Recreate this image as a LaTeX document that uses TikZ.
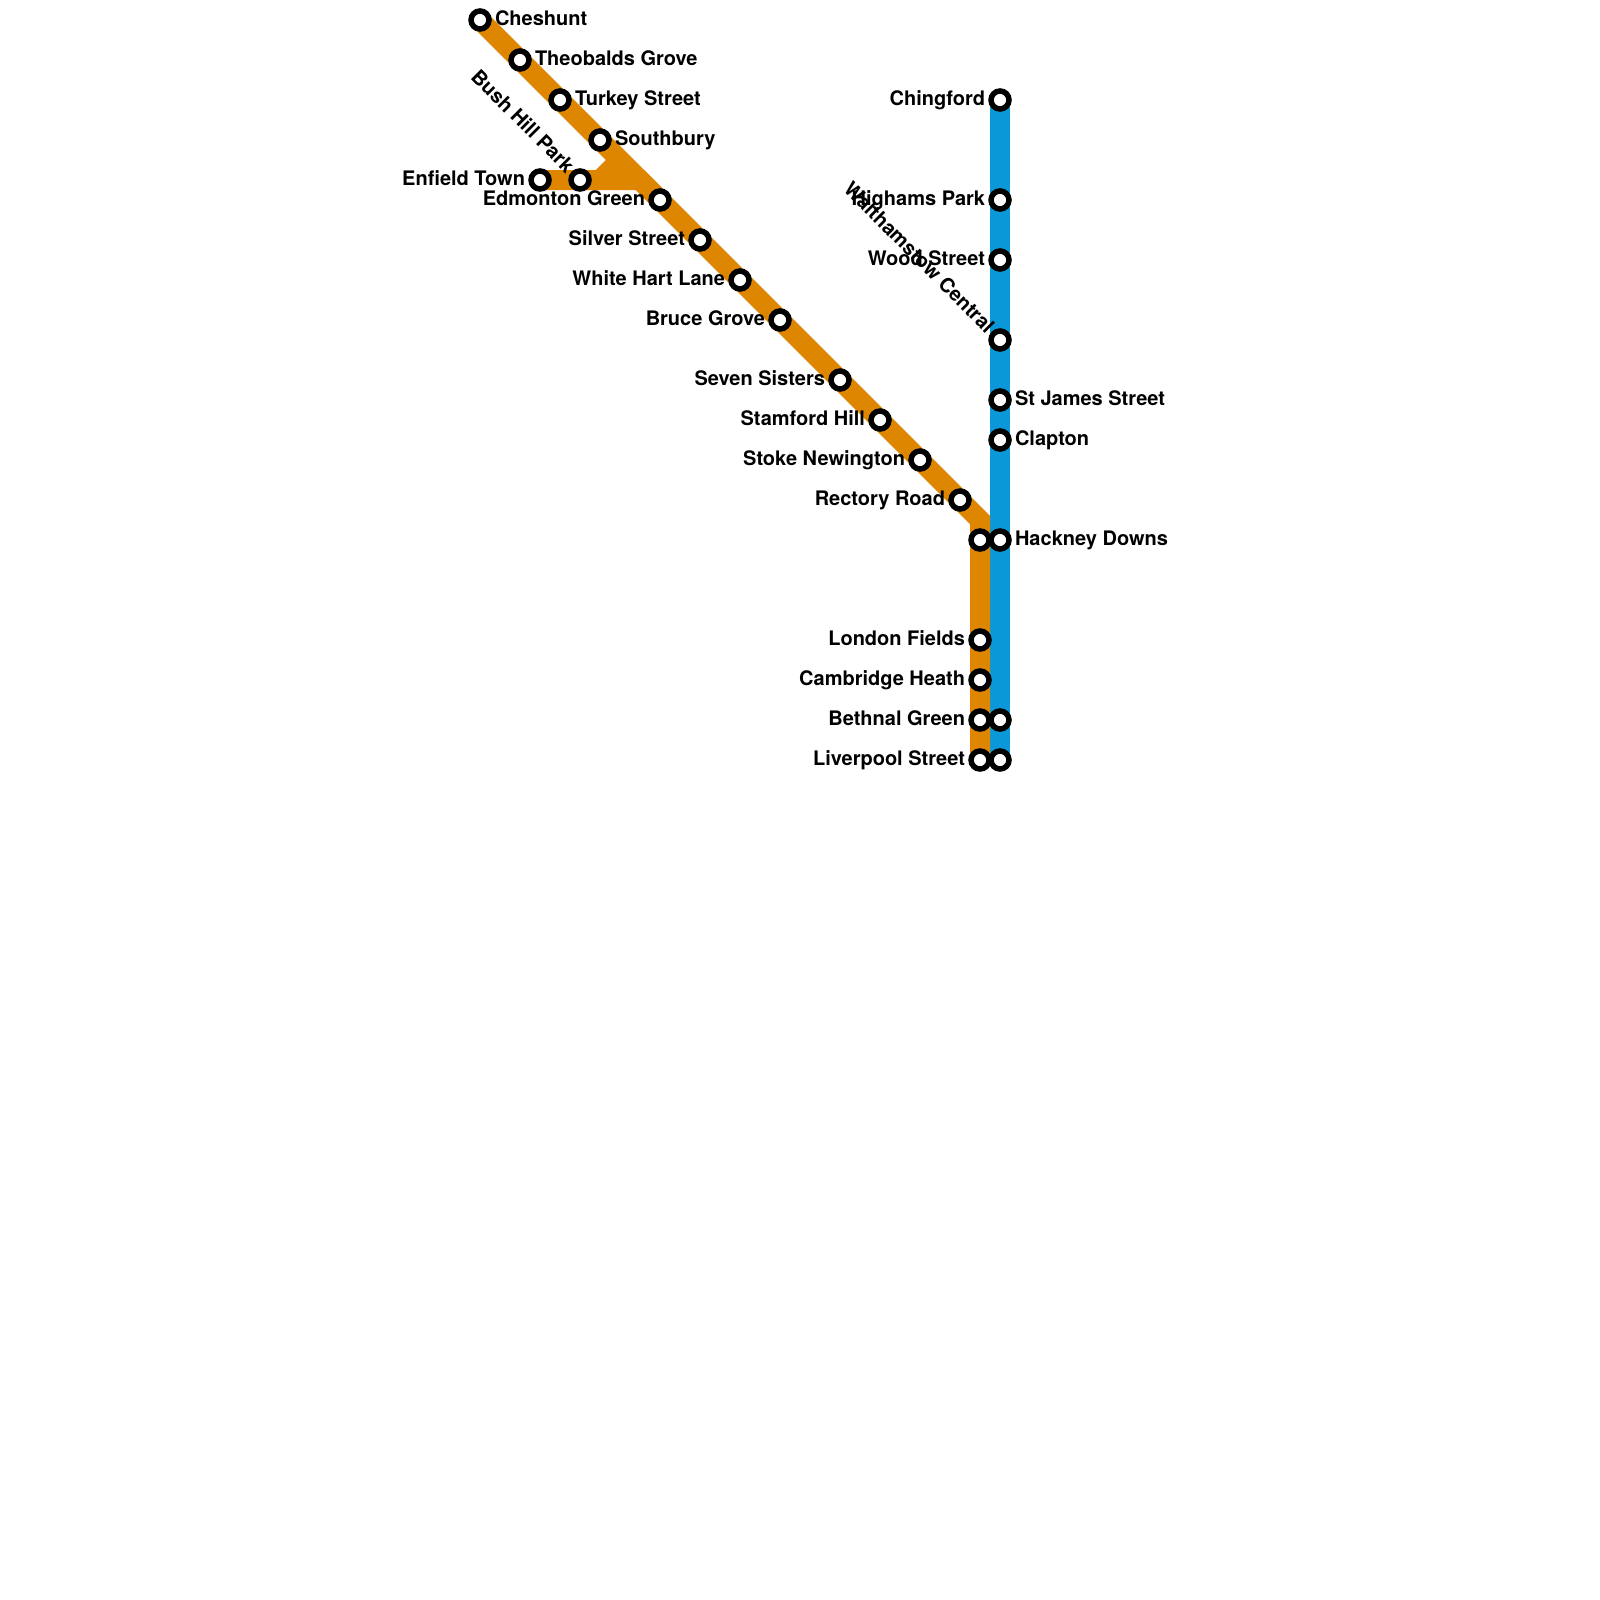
\documentclass[tikz,border=0pt]{standalone}
\usepackage{fontspec}
\setmainfont{TeX Gyre Heros}
\usetikzlibrary{backgrounds}
\definecolor{orangeline}{HTML}{DF8600}
\definecolor{blueline}{HTML}{0A98D8}
\tikzset{
  stn/.style={circle,draw=black,fill=white,line width=5.5pt,minimum size=18pt,inner sep=0pt,outer sep=0pt},
  lbl/.style={font=\fontsize{20}{24}\selectfont\bfseries,text=black,inner sep=0pt,outer sep=0pt},
  lr/.style={lbl,anchor=base west},
  ll/.style={lbl,anchor=base east},
  ld/.style={lbl,anchor=east,rotate=-45},
  oline/.style={draw=orangeline,line width=20pt,line join=miter,line cap=butt},
  bline/.style={draw=blueline,line width=20pt,line join=miter,line cap=butt}
}
\begin{document}
\begin{tikzpicture}[x=1pt,y=-1pt]
\useasboundingbox (0,0) rectangle (1600,1600);
% orange stations
\node[stn] (ches) at (480,20) {};
\node[stn] (theo) at (520,60) {};
\node[stn] (turk) at (560,100) {};
\node[stn] (sout) at (600,140) {};
\node[stn] (enft) at (540,180) {};
\node[stn] (bush) at (580,180) {};
\node[stn] (edmo) at (660,200) {};
\node[stn] (silv) at (700,240) {};
\node[stn] (whit) at (740,280) {};
\node[stn] (bruc) at (780,320) {};
\node[stn] (seve) at (840,380) {};
\node[stn] (stam) at (880,420) {};
\node[stn] (stok) at (920,460) {};
\node[stn] (rect) at (960,500) {};
\node[stn] (hako) at (980,540) {};
\node[stn] (lond) at (980,640) {};
\node[stn] (camb) at (980,680) {};
\node[stn] (beto) at (980,720) {};
\node[stn] (livo) at (980,760) {};
% blue stations
\node[stn] (chin) at (1000,100) {};
\node[stn] (high) at (1000,200) {};
\node[stn] (wood) at (1000,260) {};
\node[stn] (walt) at (1000,340) {};
\node[stn] (stja) at (1000,400) {};
\node[stn] (clap) at (1000,440) {};
\node[stn] (hakb) at (1000,540) {};
\node[stn] (betb) at (1000,720) {};
\node[stn] (livb) at (1000,760) {};
% junction points
\coordinate (bendr) at (980,520);
\coordinate (joina) at (640,180);
\coordinate (joinb) at (600,180);
\coordinate (joinc) at (620,160);
\begin{scope}[on background layer]
\draw[bline] (chin.center) -- (high.center) -- (wood.center) -- (walt.center) -- (stja.center) -- (clap.center) -- (hakb.center) -- (betb.center) -- (livb.center);
\draw[oline] (ches.center) -- (theo.center) -- (turk.center) -- (sout.center) -- (edmo.center) -- (silv.center) -- (whit.center) -- (bruc.center) -- (seve.center) -- (stam.center) -- (stok.center) -- (rect.center) -- (bendr) -- (hako.center) -- (lond.center) -- (camb.center) -- (beto.center) -- (livo.center);
\draw[oline] (enft.center) -- (bush.center) -- (joinb) -- (joina) -- (edmo.center);
\draw[oline] (joinb) -- (joinc);
\end{scope}
% labels
\node[lr] (tches) at (495,25.7) {Cheshunt};
\node[lr] (ttheo) at (535,65.7) {Theobalds Grove};
\node[lr] (tturk) at (575,105.7) {Turkey Street};
\node[lr] (tsout) at (615,145.7) {Southbury};
\node[ll] (tenft) at (525,185) {Enfield Town};
\node[ld] (tbush) at (571,169) {Bush Hill Park};
\node[ll] (tedmo) at (645,205) {Edmonton Green};
\node[ll] (tsilv) at (685,245) {Silver Street};
\node[ll] (twhit) at (725,285) {White Hart Lane};
\node[ll] (tbruc) at (765,325) {Bruce Grove};
\node[ll] (tseve) at (825,385) {Seven Sisters};
\node[ll] (tstam) at (865,425) {Stamford Hill};
\node[ll] (tstok) at (905,465) {Stoke Newington};
\node[ll] (trect) at (945,505) {Rectory Road};
\node[ll] (tlond) at (965,645) {London Fields};
\node[ll] (tcamb) at (965,685) {Cambridge Heath};
\node[ll] (tbeth) at (965,725) {Bethnal Green};
\node[ll] (tlivp) at (965,765) {Liverpool Street};
\node[ll] (tchin) at (985,105.7) {Chingford};
\node[ll] (thigh) at (985,205) {Highams Park};
\node[ll] (twood) at (985,265) {Wood Street};
\node[ld] (twalt) at (991,329) {Walthamstow Central};
\node[lr] (tstja) at (1015,405) {St James Street};
\node[lr] (tclap) at (1015,445) {Clapton};
\node[lr] (thack) at (1015,545) {Hackney Downs};
\end{tikzpicture}
\end{document}
